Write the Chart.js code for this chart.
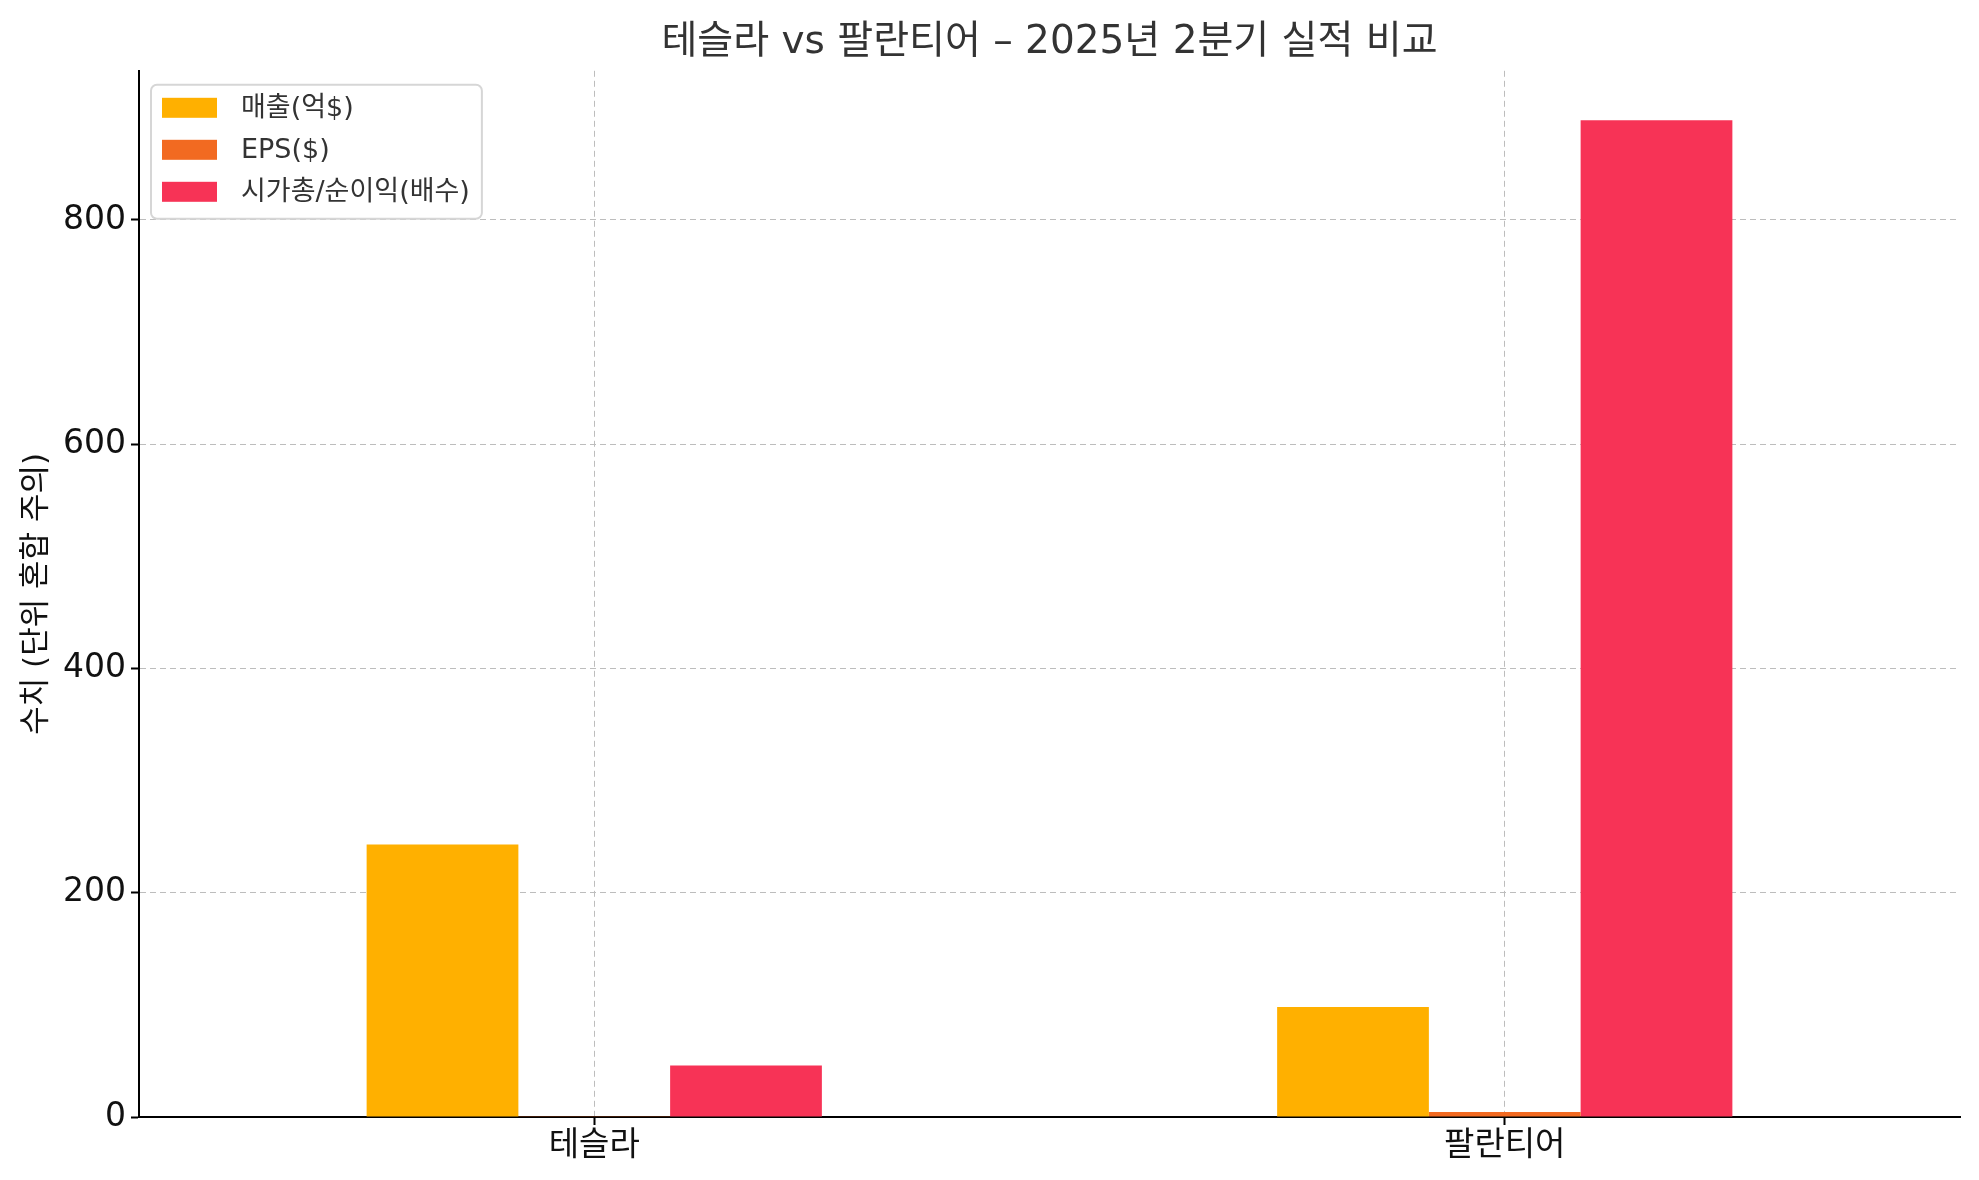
<!DOCTYPE html>
<html>
<head>
<meta charset="utf-8">
<script src="https://cdn.jsdelivr.net/npm/chart.js@4.4.1/dist/chart.umd.min.js"></script>
<style>
    html, body { margin: 0; padding: 0; background: #fff; }
    #wrap { width: 1979px; height: 1180px; }
</style>
</head>
<body>
<div id="wrap"><canvas id="earningsChart" width="1979" height="1180"></canvas></div>
<script>
const companies = ['테슬라', '팔란티어'];
const seriesNames = ['매출(억$)', 'EPS($)', '시가총/순이익(배수)'];
const revenue = [243, 98];
const eps = [0.2, 4.5];
const ratio = [46, 889];
const seriesColors = ['#FFB000', '#F26A21', '#F73356'];
const yTicks = [0, 200, 400, 600, 800];

const titleText = '테슬라 vs 팔란티어 – 2025년 2분기 실적 비교';
const yLabel = '수치 (단위 혼합 주의)';
const fontFamily = '"DejaVu Sans", "Noto Sans CJK KR", sans-serif';

// legend drawn inside the plot, top-left, like the original
const boxLegend = {
    id: 'boxLegend',
    afterDraw(chart) {
        const ctx = chart.ctx;
        const area = chart.chartArea;
        const x = area.left + 12;
        const y = area.top + 14;
        ctx.save();
        ctx.font = '27px ' + fontFamily;
        let maxW = 0;
        chart.data.datasets.forEach(ds => {
            maxW = Math.max(maxW, ctx.measureText(ds.label).width);
        });
        const w = 90 + maxW + 12;
        const h = 134;
        ctx.beginPath();
        ctx.roundRect(x, y, w, h, 6);
        ctx.fillStyle = 'rgba(255,255,255,0.8)';
        ctx.fill();
        ctx.lineWidth = 2;
        ctx.strokeStyle = '#d6d6d6';
        ctx.stroke();
        chart.data.datasets.forEach((ds, i) => {
            const rowY = y + 13 + i * 42;
            ctx.fillStyle = ds.backgroundColor;
            ctx.fillRect(x + 11, rowY, 55, 20);
            ctx.fillStyle = '#333';
            ctx.textBaseline = 'middle';
            ctx.fillText(ds.label, x + 90, rowY + 11);
        });
        ctx.restore();
    }
};

function renderChart() {
    const ctx = document.getElementById('earningsChart').getContext('2d');
    const values = [revenue, eps, ratio];
    new Chart(ctx, {
        type: 'bar',
        data: {
            labels: companies,
            datasets: seriesNames.map((name, i) => ({
                label: name,
                data: values[i],
                backgroundColor: seriesColors[i],
                borderWidth: 0,
                categoryPercentage: 0.5,
                barPercentage: 1.0
            }))
        },
        options: {
            responsive: false,
            animation: false,
            devicePixelRatio: 1,
            layout: { padding: { left: 0, right: 19, top: 0, bottom: 0 } },
            plugins: {
                legend: { display: false },
                tooltip: { enabled: false },
                title: {
                    display: true,
                    text: titleText,
                    fullSize: false,
                    color: '#333',
                    font: { family: fontFamily, size: 39, weight: 'normal' },
                    padding: { top: 19, bottom: 5 }
                }
            },
            scales: {
                x: {
                    offset: true,
                    afterFit: scale => { scale.height = 63; },
                    grid: {
                        offset: false,
                        color: '#bdbdbd',
                        lineWidth: 1,
                        tickColor: '#000',
                        tickLength: 8,
                        tickWidth: 2,
                        tickBorderDash: [1, 0]
                    },
                    border: { display: true, color: '#000', width: 2, dash: [6, 4] },
                    ticks: {
                        color: '#111',
                        padding: 2,
                        font: { family: fontFamily, size: 33 }
                    }
                },
                y: {
                    min: 0,
                    max: 933,
                    afterFit: scale => { scale.width = 139; },
                    afterBuildTicks: scale => {
                        scale.ticks = yTicks.map(v => ({ value: v }));
                    },
                    grid: {
                        color: '#bdbdbd',
                        lineWidth: 1,
                        tickColor: '#000',
                        tickLength: 8,
                        tickWidth: 2,
                        tickBorderDash: [1, 0]
                    },
                    border: { display: true, color: '#000', width: 2, dash: [6, 4] },
                    ticks: {
                        color: '#111',
                        padding: 5,
                        font: { family: fontFamily, size: 33 }
                    },
                    title: {
                        display: true,
                        text: yLabel,
                        color: '#111',
                        font: { family: fontFamily, size: 31 },
                        padding: { top: 18, bottom: 0 }
                    }
                }
            }
        },
        plugins: [boxLegend]
    });
}

renderChart();
</script>
</body>
</html>
